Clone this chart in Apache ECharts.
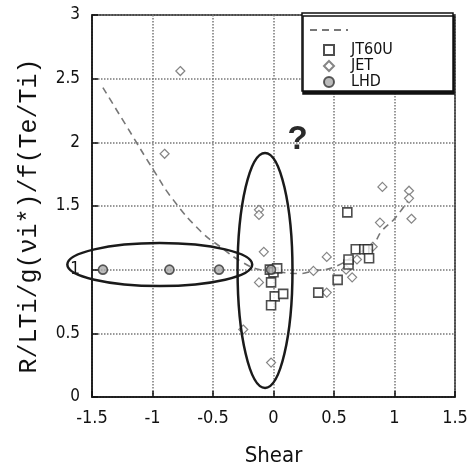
<!DOCTYPE html>
<html><head><meta charset="utf-8">
<script src="https://cdn.jsdelivr.net/npm/echarts@6/dist/echarts.min.js"></script>
<style>html,body{margin:0;padding:0;background:#fff}#c{width:470px;height:470px}</style>
</head><body><div id="c"></div>
<script>
// ---- data ----
const xAxisRange = [-1.5, 1.5];
const yAxisRange = [0, 3];
const tickStep = 0.5;
const seriesNames = ['JT60U', 'JET', 'LHD'];
const jt60u = [[-0.03,1.0],[0.0,0.98],[0.03,1.01],[-0.02,0.90],[0.01,0.79],[0.08,0.81],[-0.02,0.72],
  [0.37,0.82],[0.53,0.92],[0.62,1.04],[0.62,1.08],[0.61,1.45],[0.68,1.16],[0.75,1.16],[0.78,1.16],[0.79,1.09]];
const jet = [[-0.77,2.56],[-0.90,1.91],[-0.12,1.47],[-0.12,1.43],[-0.08,1.14],[-0.12,0.90],[-0.25,0.53],
  [-0.02,0.27],[0.33,0.99],[0.44,1.10],[0.44,0.82],[0.60,1.0],[0.65,0.94],[0.69,1.08],[0.82,1.18],
  [0.88,1.37],[0.90,1.65],[1.12,1.62],[1.12,1.56],[1.14,1.40]];
const lhd = [[-1.41,1.0],[-0.86,1.0],[-0.45,1.0],[-0.02,1.0]];
const fitCurve = [[-1.41,2.43],[-1.21,2.12],[-0.99,1.78],[-0.83,1.55],[-0.6,1.30],[-0.44,1.18],[-0.26,1.06],
  [-0.11,1.0],[0.06,0.98],[0.22,0.97],[0.33,0.99],[0.5,1.02],[0.7,1.13],[0.82,1.20],[0.9,1.31],[1.0,1.40],[1.11,1.54]];
// annotation ellipses (data units) and "?" mark
const ellipses = [{cx:-0.94, cy:1.04, rx:0.764, ry:0.169}, {cx:-0.07, cy:0.994, rx:0.227, ry:0.923}];
const questionMark = {x:0.20, y:2.02, text:'?'};
const xTitle = 'Shear';
const yTitle = 'R/LTi/g(νi*)/f(Te/Ti)';

const narrow = "'Liberation Sans Narrow','DejaVu Sans Condensed',sans-serif";
const chart = echarts.init(document.getElementById('c'));
const option = {
  backgroundColor: '#fff',
  animation: false,
  grid: {left: 92, right: 15, top: 15, bottom: 73, show: true, borderColor: '#111', borderWidth: 1.5,
         outerBoundsMode: 'none', containLabel: false},
  legend: [
    {data: ['fit'], left: 309, top: 24, itemWidth: 38, itemHeight: 12, padding: 0, formatter: () => '',
     z: 10, itemStyle: {opacity: 0}, textStyle: {fontSize: 1}},
    {data: [{name: 'JT60U', icon: 'rect'}, {name: 'JET', icon: 'diamond'}, {name: 'LHD', icon: 'circle'}],
     orient: 'vertical', left: 323, top: 42, padding: 0, itemWidth: 10, itemHeight: 10, itemGap: 0, z: 10,
     textStyle: {fontFamily: narrow, fontSize: 16, lineHeight: 12, color: '#111', padding: [0, 0, 0, 12]}}
  ],
  xAxis: {
    type: 'value', min: xAxisRange[0], max: xAxisRange[1], interval: tickStep,
    name: xTitle, nameLocation: 'middle', nameGap: 48,
    nameTextStyle: {fontFamily: narrow, fontSize: 22, color: '#111'},
    axisLine: {onZero: false, lineStyle: {color: '#111', width: 1.5}},
    axisTick: {inside: true, length: 6, lineStyle: {color: '#111', width: 1.5}},
    axisLabel: {fontFamily: narrow, fontSize: 18, color: '#111', margin: 12},
    splitLine: {lineStyle: {type: 'dotted', color: '#777', width: 1.5}}
  },
  yAxis: {
    type: 'value', min: yAxisRange[0], max: yAxisRange[1], interval: tickStep,
    name: yTitle, nameLocation: 'middle', nameGap: 50, nameRotate: 90,
    nameTextStyle: {fontFamily: "'Liberation Mono','DejaVu Sans Mono',monospace", fontSize: 25, color: '#111', padding: [0, 20, 0, 0]},
    axisLine: {onZero: false, lineStyle: {color: '#111', width: 1.5}},
    axisTick: {inside: true, length: 6, lineStyle: {color: '#111', width: 1.5}},
    axisLabel: {fontFamily: narrow, fontSize: 17, color: '#111', margin: 12},
    splitLine: {lineStyle: {type: 'dotted', color: '#777', width: 1.5}}
  },
  series: [
    {name: 'fit', type: 'line', data: fitCurve, smooth: true, symbol: 'none', z: 2,
     lineStyle: {type: [7, 5], color: '#777', width: 1.6}, itemStyle: {color: '#777'}},
    {name: 'JT60U', type: 'scatter', data: jt60u, symbol: 'rect', symbolSize: 9, z: 4,
     itemStyle: {color: '#fff', borderColor: '#222', borderWidth: 1.6}},
    {name: 'JET', type: 'scatter', data: jet, symbol: 'diamond', symbolSize: 9, z: 3,
     itemStyle: {color: '#fff', borderColor: '#666', borderWidth: 1.2}},
    {name: 'LHD', type: 'scatter', data: lhd, symbol: 'circle', symbolSize: 9, z: 5,
     itemStyle: {color: '#aaa', borderColor: '#333', borderWidth: 1.6}}
  ]
};
chart.setOption(option);

const P = p => chart.convertToPixel({gridIndex: 0}, p);
const graphics = [
  {type: 'rect', z: 5, shape: {x: 302, y: 13, width: 151, height: 78},
   style: {fill: '#fff', stroke: '#111', lineWidth: 1.5, shadowColor: '#111', shadowOffsetX: 1, shadowOffsetY: 3, shadowBlur: 0}}
];
ellipses.forEach(e => {
  const c = P([e.cx, e.cy]);
  const ex = P([e.cx + e.rx, e.cy]);
  const ey = P([e.cx, e.cy + e.ry]);
  graphics.push({type: 'ellipse', z: 20, silent: true,
    shape: {cx: c[0], cy: c[1], rx: Math.abs(ex[0] - c[0]), ry: Math.abs(c[1] - ey[1])},
    style: {fill: 'none', stroke: '#1a1a1a', lineWidth: 2.5}});
});
const q = P([questionMark.x, questionMark.y]);
graphics.push({type: 'text', z: 20, x: q[0], y: q[1],
  style: {text: questionMark.text, fill: '#2a2a2a', font: "bold 33px 'Liberation Sans',sans-serif", align: 'center', verticalAlign: 'middle'}});
chart.setOption({graphic: graphics});
</script>
</body></html>
